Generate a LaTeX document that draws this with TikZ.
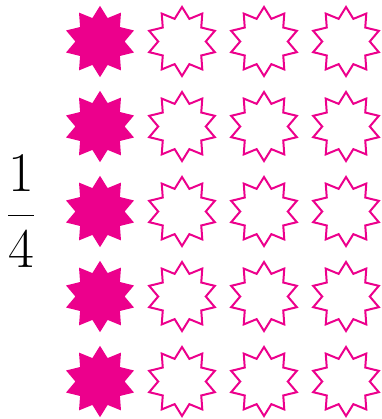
\documentclass[tikz,border=0pt]{standalone}
\usetikzlibrary{shapes.geometric}
\definecolor{mag}{RGB}{236,0,140}
\tikzset{
  starbase/.style={shape=star, star points=10, star point ratio=1.45, inner sep=0pt, outer sep=0pt},
  fullstar/.style={starbase, minimum size=71.4pt, fill=mag, draw=none},
  emptystar/.style={starbase, minimum size=69pt, draw=mag, line width=2pt, fill=none},
  digit/.style={anchor=base, inner sep=0pt, font=\fontsize{56}{60}\selectfont},
}
\begin{document}
\begin{tikzpicture}[x=1pt,y=-1pt]
\useasboundingbox (0,0) rectangle (381,419);
\foreach \r [count=\i] in {41.5,126.5,211.5,296.5,381.5}{
  \node[fullstar] (s\i-1) at (100,\r) {};
  \node[emptystar] (s\i-2) at (182,\r) {};
  \node[emptystar] (s\i-3) at (264,\r) {};
  \node[emptystar] (s\i-4) at (346,\r) {};
}
\node[digit] (num) at (21.5,191.7) {1};
\node[digit] (den) at (21.5,267.3) {4};
\coordinate (barL) at (8.3,215.7);
\coordinate (barR) at (34,215.7);
\draw[line width=1.1pt] (barL) -- (barR);
\end{tikzpicture}
\end{document}
